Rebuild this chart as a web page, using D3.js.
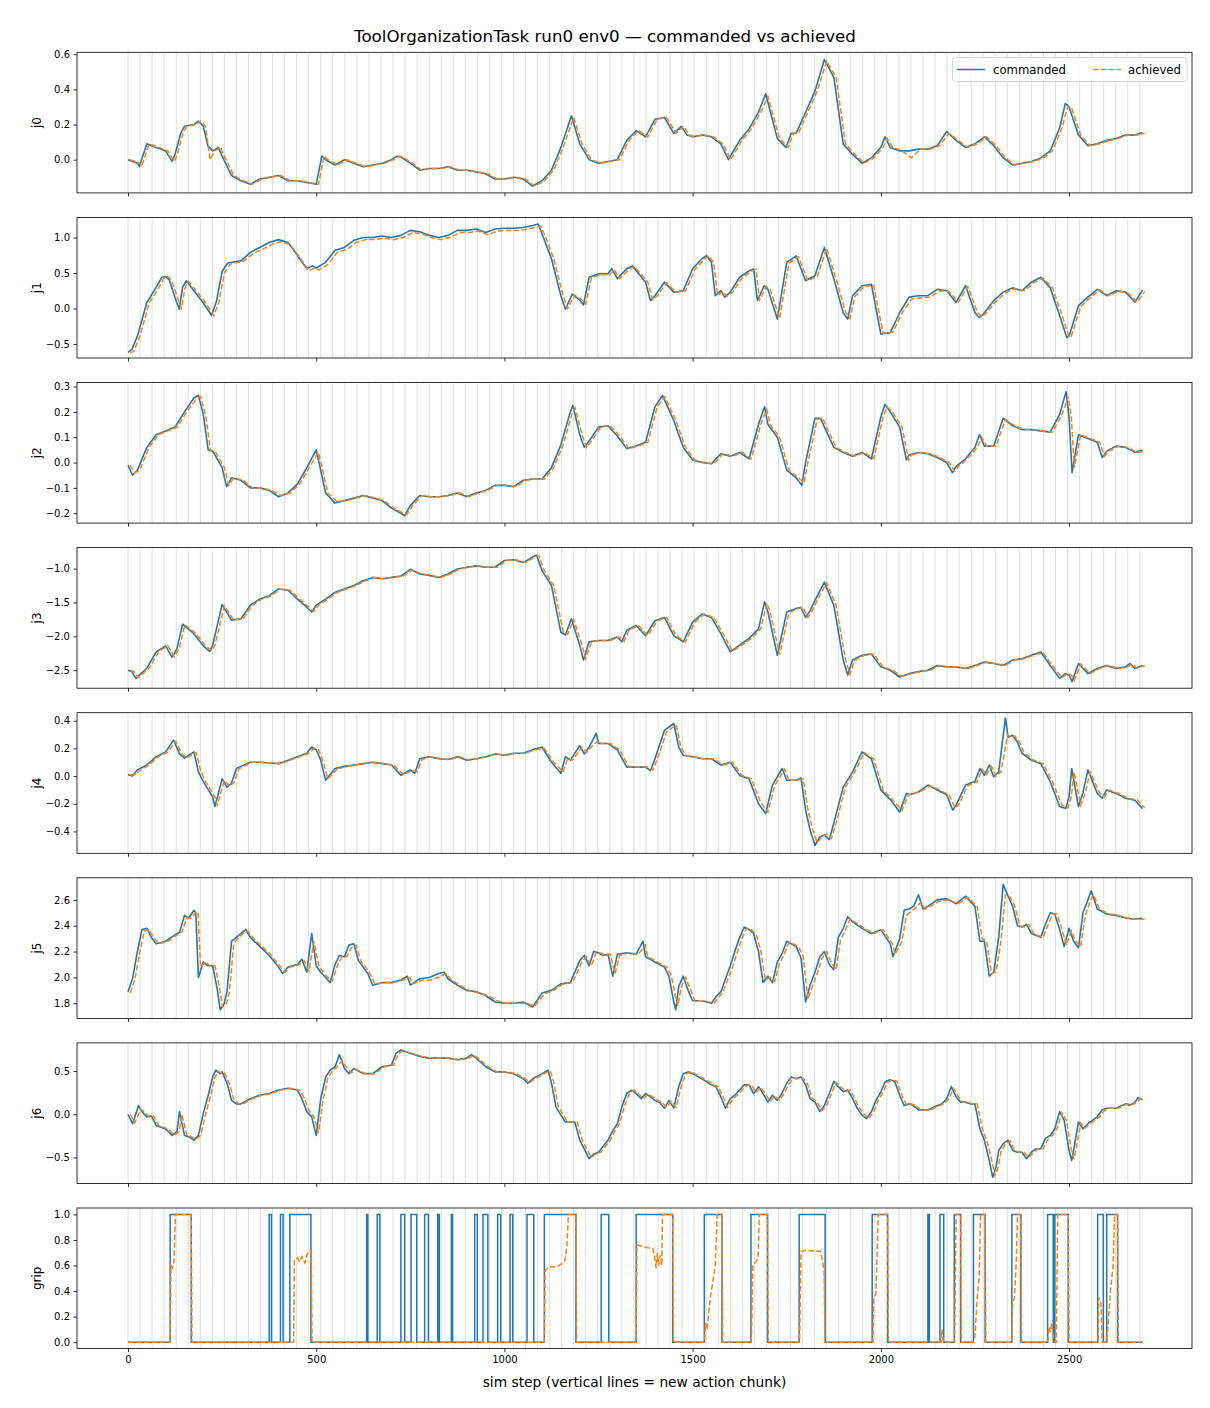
<!DOCTYPE html>
<html><head><meta charset="utf-8">
<script src="https://cdn.jsdelivr.net/npm/d3@7"></script>
<style>body{margin:0;background:#fff} text{font-family:"DejaVu Sans",sans-serif}</style>
</head><body><svg id="c" width="1210" height="1408"></svg>
<script>
// ---------------- DATA ----------------
const titleText = "ToolOrganizationTask run0 env0 \u2014 commanded vs achieved";
const xLabelText = "sim step (vertical lines = new action chunk)";
const panelNames = ["j0","j1","j2","j3","j4","j5","j6","grip"];
const xTickValues = [0,500,1000,1500,2000,2500];
const chunkSize = 32;
const lastStep = 2695;
const achievedLagSteps = 6;
const yLimits = [[-0.189,0.611],[-0.698,1.283],[-0.239,0.316],[-2.765,-0.69],[-0.558,0.458],[1.683,2.771],[-0.802,0.826],[-0.05,1.05]];
const yTickValues = [[0,0.2,0.4,0.6],[-0.5,0,0.5,1.0],[-0.2,-0.1,0,0.1,0.2,0.3],[-2.5,-2.0,-1.5,-1.0],[-0.4,-0.2,0,0.2,0.4],[1.8,2.0,2.2,2.4,2.6],[-0.5,0,0.5],[0,0.2,0.4,0.6,0.8,1.0]];

const steps0 = [0,25,30,50,75,100,117,125,140,150,175,187,200,212,225,240,250,275,300,325,350,375,400,425,450,475,500,515,525,550,575,600,625,650,675,700,715,725,750,775,800,825,850,875,900,925,950,975,1000,1025,1050,1075,1100,1125,1150,1178,1200,1225,1250,1275,1300,1325,1350,1375,1400,1425,1450,1470,1485,1500,1525,1550,1575,1595,1625,1650,1675,1694,1725,1748,1762,1775,1800,1825,1850,1875,1900,1925,1950,1975,2000,2011,2025,2050,2075,2100,2125,2150,2175,2200,2225,2250,2275,2300,2325,2350,2375,2400,2425,2450,2475,2490,2500,2525,2550,2575,2600,2625,2650,2675,2695];
const cmd0 = [0.0,-0.02,-0.04,0.09,0.07,0.05,-0.01,0.03,0.15,0.19,0.20,0.22,0.19,0.08,0.05,0.07,0.02,-0.09,-0.12,-0.14,-0.11,-0.10,-0.09,-0.12,-0.12,-0.13,-0.14,0.02,0.0,-0.03,0.0,-0.02,-0.04,-0.03,-0.02,0.0,0.02,0.015,-0.02,-0.06,-0.05,-0.05,-0.04,-0.06,-0.06,-0.07,-0.08,-0.11,-0.11,-0.10,-0.11,-0.15,-0.12,-0.06,0.07,0.25,0.09,0.0,-0.02,-0.01,0.0,0.11,0.165,0.13,0.23,0.24,0.15,0.19,0.14,0.13,0.14,0.13,0.09,0.0,0.11,0.175,0.27,0.375,0.12,0.07,0.15,0.15,0.27,0.39,0.57,0.47,0.09,0.03,-0.02,0.01,0.07,0.13,0.07,0.05,0.05,0.06,0.06,0.08,0.16,0.11,0.07,0.09,0.13,0.08,0.01,-0.03,-0.02,-0.01,0.01,0.05,0.18,0.32,0.30,0.14,0.08,0.09,0.11,0.12,0.14,0.14,0.155];
const ach0 = [0.0,-0.02,-0.04,0.09,0.07,0.05,-0.01,0.03,0.15,0.19,0.20,0.22,0.19,0.0,0.05,0.07,0.02,-0.09,-0.12,-0.14,-0.11,-0.10,-0.09,-0.12,-0.12,-0.13,-0.14,0.02,0.0,-0.03,0.0,-0.02,-0.04,-0.03,-0.02,0.0,0.02,0.015,-0.02,-0.06,-0.05,-0.05,-0.04,-0.06,-0.06,-0.07,-0.08,-0.11,-0.11,-0.10,-0.11,-0.15,-0.12,-0.06,0.07,0.24,0.09,0.0,-0.02,-0.01,0.0,0.11,0.165,0.13,0.23,0.24,0.15,0.19,0.14,0.13,0.14,0.13,0.09,0.0,0.11,0.175,0.27,0.36,0.12,0.07,0.15,0.15,0.27,0.39,0.56,0.47,0.09,0.03,-0.02,0.01,0.07,0.12,0.07,0.05,0.01,0.06,0.06,0.08,0.15,0.11,0.07,0.09,0.13,0.08,0.01,-0.03,-0.02,-0.01,0.01,0.05,0.18,0.30,0.30,0.14,0.08,0.09,0.11,0.12,0.14,0.14,0.15];

const steps1 = [0,10,25,50,75,90,100,110,125,136,145,155,175,200,222,235,250,265,275,300,325,350,375,400,425,450,475,490,500,525,550,575,600,625,650,675,700,725,750,775,800,825,850,875,900,925,950,975,1000,1025,1050,1075,1090,1100,1125,1150,1162,1180,1200,1210,1225,1250,1275,1285,1300,1325,1340,1375,1388,1400,1425,1450,1475,1500,1525,1537,1550,1560,1575,1585,1600,1625,1650,1662,1672,1690,1700,1725,1750,1775,1800,1825,1850,1875,1900,1912,1925,1950,1975,2000,2025,2050,2075,2100,2125,2150,2175,2200,2225,2250,2262,2275,2300,2325,2350,2375,2400,2425,2450,2475,2494,2500,2525,2550,2575,2600,2625,2650,2675,2695];
const cmd1 = [-0.62,-0.58,-0.39,0.08,0.30,0.44,0.45,0.40,0.15,-0.01,0.30,0.39,0.25,0.08,-0.10,0.10,0.52,0.64,0.65,0.67,0.79,0.86,0.93,0.97,0.93,0.75,0.56,0.60,0.57,0.65,0.82,0.86,0.96,1.00,1.00,1.02,1.00,1.03,1.10,1.08,1.03,1.00,1.03,1.10,1.10,1.12,1.07,1.12,1.13,1.13,1.14,1.17,1.19,1.05,0.70,0.18,-0.01,0.20,0.12,0.05,0.44,0.49,0.49,0.56,0.42,0.56,0.60,0.37,0.11,0.18,0.37,0.23,0.25,0.56,0.70,0.745,0.65,0.18,0.25,0.16,0.23,0.44,0.53,0.557,0.11,0.32,0.27,-0.15,0.65,0.74,0.39,0.46,0.86,0.42,-0.06,-0.15,0.18,0.32,0.34,-0.36,-0.34,-0.06,0.16,0.18,0.18,0.27,0.25,0.085,0.32,-0.06,-0.13,-0.06,0.11,0.23,0.29,0.25,0.37,0.44,0.29,-0.10,-0.41,-0.39,0.04,0.16,0.27,0.18,0.25,0.23,0.09,0.26];
const ach1 = [-0.63,-0.60,-0.40,0.07,0.29,0.43,0.45,0.40,0.16,0.0,0.28,0.38,0.25,0.08,-0.10,0.08,0.50,0.62,0.64,0.66,0.77,0.83,0.90,0.94,0.90,0.72,0.53,0.57,0.54,0.62,0.79,0.83,0.93,0.97,0.97,0.99,0.97,1.00,1.07,1.05,1.00,0.97,1.00,1.07,1.07,1.09,1.04,1.09,1.10,1.10,1.11,1.14,1.16,1.05,0.70,0.18,0.0,0.19,0.12,0.06,0.43,0.48,0.48,0.55,0.42,0.55,0.59,0.37,0.12,0.18,0.36,0.23,0.25,0.55,0.69,0.74,0.65,0.19,0.24,0.17,0.23,0.43,0.52,0.55,0.12,0.31,0.27,-0.14,0.64,0.73,0.39,0.45,0.85,0.42,-0.05,-0.14,0.17,0.31,0.33,-0.35,-0.34,-0.07,0.13,0.15,0.16,0.25,0.24,0.09,0.31,-0.05,-0.12,-0.06,0.10,0.22,0.28,0.25,0.36,0.43,0.29,-0.09,-0.40,-0.39,0.03,0.15,0.26,0.18,0.24,0.22,0.09,0.24];

const steps2 = [0,12,25,50,75,100,125,150,175,187,200,213,225,250,262,275,300,325,350,375,400,425,450,475,500,525,550,575,600,625,650,675,700,725,735,750,775,800,825,850,875,900,925,950,975,1000,1025,1050,1075,1100,1125,1150,1175,1182,1200,1212,1225,1250,1275,1300,1325,1350,1375,1400,1420,1450,1475,1500,1525,1550,1575,1600,1625,1650,1675,1691,1700,1725,1750,1775,1790,1800,1825,1840,1850,1875,1900,1925,1950,1975,2000,2011,2025,2050,2068,2075,2100,2125,2150,2175,2190,2200,2225,2250,2262,2275,2300,2325,2350,2375,2400,2425,2450,2475,2492,2500,2508,2525,2550,2575,2588,2600,2625,2650,2675,2695];
const cmd2 = [-0.01,-0.05,-0.03,0.06,0.11,0.125,0.14,0.20,0.255,0.265,0.19,0.05,0.045,-0.02,-0.095,-0.06,-0.07,-0.10,-0.10,-0.11,-0.135,-0.12,-0.085,-0.02,0.05,-0.12,-0.16,-0.15,-0.14,-0.13,-0.14,-0.15,-0.18,-0.20,-0.21,-0.17,-0.13,-0.135,-0.135,-0.13,-0.12,-0.135,-0.12,-0.11,-0.09,-0.09,-0.095,-0.07,-0.065,-0.065,-0.02,0.07,0.20,0.225,0.11,0.06,0.085,0.14,0.145,0.105,0.055,0.065,0.08,0.22,0.265,0.165,0.06,0.01,0.0,-0.005,0.035,0.025,0.04,0.015,0.15,0.22,0.15,0.10,-0.03,-0.06,-0.09,0.0,0.175,0.175,0.14,0.06,0.04,0.025,0.04,0.015,0.18,0.23,0.20,0.14,0.01,0.03,0.04,0.035,0.02,0.0,-0.04,-0.015,0.015,0.06,0.11,0.065,0.065,0.175,0.145,0.13,0.13,0.125,0.12,0.19,0.28,0.18,-0.04,0.11,0.095,0.08,0.02,0.045,0.065,0.06,0.04,0.05];
const ach2 = [-0.01,-0.04,-0.03,0.06,0.11,0.125,0.14,0.20,0.25,0.26,0.19,0.05,0.045,-0.02,-0.09,-0.06,-0.07,-0.10,-0.10,-0.11,-0.13,-0.12,-0.085,-0.02,0.04,-0.12,-0.155,-0.15,-0.14,-0.13,-0.14,-0.15,-0.18,-0.20,-0.205,-0.17,-0.13,-0.135,-0.135,-0.13,-0.12,-0.135,-0.12,-0.11,-0.09,-0.09,-0.095,-0.07,-0.065,-0.065,-0.02,0.07,0.20,0.215,0.11,0.06,0.085,0.14,0.145,0.105,0.055,0.065,0.08,0.22,0.26,0.165,0.06,0.01,0.0,-0.005,0.035,0.025,0.04,0.015,0.15,0.21,0.15,0.10,-0.03,-0.06,-0.08,0.0,0.17,0.175,0.14,0.06,0.04,0.025,0.04,0.015,0.18,0.22,0.20,0.14,0.01,0.03,0.04,0.035,0.02,0.0,-0.035,-0.015,0.015,0.06,0.10,0.065,0.065,0.17,0.145,0.13,0.13,0.125,0.12,0.19,0.26,0.18,-0.02,0.11,0.095,0.08,0.025,0.045,0.065,0.06,0.04,0.045];

const steps3 = [0,10,21,50,75,100,117,130,145,175,200,217,225,250,275,300,325,350,375,400,425,450,475,488,500,525,550,575,600,625,650,675,700,725,750,775,800,825,850,875,900,925,950,975,1000,1025,1050,1075,1085,1100,1125,1150,1162,1178,1200,1210,1225,1250,1275,1300,1312,1325,1350,1375,1400,1425,1450,1475,1500,1525,1550,1575,1600,1625,1650,1675,1691,1700,1725,1750,1775,1787,1800,1812,1825,1850,1875,1900,1912,1925,1950,1975,2000,2025,2050,2075,2100,2125,2150,2175,2200,2225,2250,2275,2300,2325,2350,2375,2400,2425,2450,2475,2490,2500,2508,2525,2550,2575,2600,2625,2650,2662,2675,2695];
const cmd3 = [-2.50,-2.52,-2.62,-2.47,-2.23,-2.14,-2.31,-2.18,-1.82,-1.96,-2.14,-2.22,-2.13,-1.53,-1.76,-1.74,-1.54,-1.45,-1.40,-1.30,-1.32,-1.45,-1.57,-1.64,-1.54,-1.45,-1.35,-1.30,-1.25,-1.18,-1.13,-1.15,-1.13,-1.11,-1.01,-1.08,-1.10,-1.13,-1.08,-1.005,-0.98,-0.96,-0.98,-0.98,-0.88,-0.87,-0.91,-0.83,-0.80,-1.03,-1.25,-1.94,-1.98,-1.74,-2.13,-2.35,-2.08,-2.06,-2.06,-2.01,-2.08,-1.91,-1.84,-1.99,-1.77,-1.72,-1.99,-2.08,-1.79,-1.67,-1.72,-1.96,-2.23,-2.13,-2.03,-1.89,-1.49,-1.64,-2.28,-1.64,-1.59,-1.57,-1.72,-1.62,-1.47,-1.20,-1.54,-2.35,-2.57,-2.35,-2.28,-2.26,-2.45,-2.50,-2.60,-2.55,-2.52,-2.50,-2.43,-2.45,-2.45,-2.475,-2.43,-2.38,-2.40,-2.43,-2.35,-2.33,-2.28,-2.23,-2.43,-2.62,-2.55,-2.57,-2.67,-2.40,-2.55,-2.475,-2.43,-2.475,-2.45,-2.40,-2.475,-2.43];
const ach3 = [-2.50,-2.52,-2.61,-2.47,-2.23,-2.14,-2.30,-2.18,-1.83,-1.96,-2.14,-2.21,-2.13,-1.55,-1.76,-1.74,-1.54,-1.45,-1.40,-1.30,-1.32,-1.45,-1.57,-1.63,-1.54,-1.45,-1.35,-1.30,-1.25,-1.18,-1.13,-1.15,-1.13,-1.11,-1.02,-1.08,-1.10,-1.13,-1.08,-1.005,-0.98,-0.96,-0.98,-0.98,-0.88,-0.87,-0.91,-0.83,-0.81,-1.03,-1.25,-1.93,-1.97,-1.75,-2.13,-2.33,-2.08,-2.06,-2.06,-2.01,-2.07,-1.91,-1.84,-1.99,-1.77,-1.72,-1.99,-2.08,-1.79,-1.67,-1.72,-1.96,-2.22,-2.13,-2.03,-1.89,-1.51,-1.64,-2.27,-1.65,-1.59,-1.57,-1.72,-1.62,-1.47,-1.21,-1.54,-2.34,-2.56,-2.35,-2.28,-2.26,-2.45,-2.50,-2.59,-2.55,-2.52,-2.50,-2.43,-2.45,-2.45,-2.475,-2.43,-2.38,-2.40,-2.43,-2.35,-2.33,-2.28,-2.24,-2.43,-2.61,-2.55,-2.57,-2.65,-2.41,-2.55,-2.475,-2.43,-2.475,-2.45,-2.41,-2.47,-2.43];

const steps4 = [0,12,25,50,75,100,121,137,150,175,187,200,225,231,250,263,275,288,300,325,350,375,400,425,450,475,488,500,512,525,550,575,600,625,650,675,700,725,750,762,775,800,825,850,875,900,925,950,975,1000,1025,1050,1075,1100,1125,1150,1162,1175,1200,1212,1225,1244,1250,1275,1300,1325,1350,1375,1388,1400,1425,1450,1463,1475,1500,1525,1550,1575,1600,1625,1650,1675,1694,1712,1738,1750,1775,1788,1800,1812,1825,1838,1850,1863,1875,1900,1925,1950,1975,2000,2025,2050,2068,2075,2100,2125,2150,2175,2191,2200,2225,2250,2263,2275,2288,2300,2313,2331,2338,2350,2363,2375,2400,2425,2450,2475,2491,2500,2507,2525,2537,2550,2575,2588,2600,2625,2650,2675,2695];
const cmd4 = [0.01,0.0,0.045,0.08,0.14,0.175,0.26,0.16,0.13,0.175,0.03,-0.04,-0.15,-0.22,-0.02,-0.08,-0.05,0.055,0.07,0.10,0.10,0.095,0.09,0.115,0.14,0.165,0.21,0.19,0.115,-0.03,0.055,0.07,0.08,0.09,0.10,0.09,0.08,0.005,0.045,0.02,0.125,0.14,0.125,0.12,0.14,0.115,0.125,0.14,0.16,0.15,0.165,0.165,0.19,0.21,0.10,0.02,0.14,0.115,0.22,0.16,0.21,0.31,0.235,0.235,0.19,0.065,0.065,0.065,0.04,0.125,0.33,0.38,0.21,0.15,0.14,0.125,0.125,0.08,0.10,0.005,-0.02,-0.20,-0.27,-0.065,0.055,-0.03,-0.03,-0.015,-0.245,-0.39,-0.50,-0.44,-0.425,-0.46,-0.34,-0.08,0.03,0.175,0.125,-0.10,-0.17,-0.26,-0.125,-0.135,-0.115,-0.065,-0.10,-0.135,-0.245,-0.21,-0.065,-0.04,0.055,0.005,0.08,-0.005,0.03,0.42,0.28,0.295,0.245,0.165,0.115,0.09,-0.04,-0.22,-0.235,-0.15,0.055,-0.22,-0.12,0.045,-0.125,-0.16,-0.10,-0.125,-0.16,-0.175,-0.235];
const ach4 = [0.01,0.01,0.04,0.08,0.14,0.175,0.25,0.16,0.13,0.17,0.04,-0.04,-0.15,-0.21,-0.03,-0.07,-0.05,0.05,0.07,0.10,0.10,0.095,0.09,0.115,0.14,0.165,0.20,0.19,0.11,-0.02,0.05,0.07,0.08,0.09,0.10,0.09,0.08,0.01,0.04,0.03,0.12,0.14,0.125,0.12,0.14,0.115,0.125,0.14,0.16,0.15,0.165,0.165,0.19,0.20,0.10,0.03,0.13,0.115,0.21,0.17,0.21,0.26,0.235,0.235,0.19,0.065,0.065,0.065,0.045,0.12,0.32,0.37,0.21,0.15,0.14,0.125,0.125,0.08,0.10,0.005,-0.02,-0.19,-0.26,-0.07,0.05,-0.03,-0.03,-0.02,-0.24,-0.38,-0.48,-0.44,-0.42,-0.45,-0.34,-0.08,0.03,0.17,0.125,-0.10,-0.17,-0.25,-0.13,-0.135,-0.11,-0.07,-0.10,-0.135,-0.23,-0.21,-0.07,-0.04,0.05,0.01,0.07,0.0,0.03,0.30,0.28,0.29,0.245,0.165,0.115,0.09,-0.04,-0.21,-0.23,-0.15,0.03,-0.21,-0.12,0.03,-0.12,-0.15,-0.10,-0.125,-0.16,-0.17,-0.23];

const steps5 = [0,12,25,37,50,62,75,100,125,137,150,162,175,180,187,200,212,225,237,245,256,263,275,288,300,313,325,350,375,400,411,425,450,462,475,488,500,512,525,537,550,562,575,587,600,612,625,637,650,675,700,725,742,750,775,800,825,840,850,875,900,925,950,975,1000,1025,1050,1075,1100,1125,1150,1175,1200,1212,1225,1237,1250,1262,1275,1288,1300,1325,1350,1368,1375,1400,1425,1437,1450,1455,1463,1475,1488,1500,1525,1550,1562,1575,1600,1612,1625,1637,1650,1662,1675,1687,1700,1712,1725,1737,1750,1762,1775,1788,1800,1812,1825,1838,1850,1863,1875,1887,1900,1912,1925,1950,1975,2000,2025,2032,2050,2062,2075,2087,2100,2112,2125,2150,2175,2200,2225,2250,2263,2275,2288,2300,2313,2325,2338,2350,2363,2375,2387,2400,2425,2437,2450,2462,2475,2487,2500,2512,2525,2537,2550,2559,2575,2600,2625,2650,2675,2695];
const cmd5 = [1.89,1.99,2.20,2.37,2.38,2.31,2.26,2.28,2.33,2.35,2.48,2.46,2.52,2.50,2.00,2.12,2.09,2.09,1.91,1.75,1.80,1.89,2.28,2.31,2.34,2.37,2.31,2.24,2.17,2.08,2.03,2.08,2.10,2.14,2.04,2.34,2.09,2.04,2.00,1.96,2.10,2.17,2.16,2.25,2.26,2.13,2.08,2.03,1.94,1.96,1.96,1.98,2.01,1.94,1.99,2.00,2.03,2.04,1.99,1.94,1.90,1.89,1.86,1.81,1.80,1.80,1.81,1.77,1.88,1.90,1.95,1.96,2.13,2.17,2.09,2.20,2.19,2.17,2.18,2.01,2.18,2.19,2.18,2.28,2.16,2.12,2.08,2.01,1.81,1.75,1.93,2.01,1.90,1.82,1.82,1.80,1.85,1.89,2.09,2.20,2.31,2.39,2.37,2.34,2.20,1.96,2.01,1.96,2.12,2.18,2.28,2.26,2.24,2.15,1.81,1.94,2.04,2.16,2.20,2.10,2.06,2.31,2.38,2.47,2.43,2.38,2.34,2.37,2.26,2.16,2.30,2.52,2.53,2.55,2.64,2.53,2.55,2.60,2.61,2.57,2.63,2.55,2.28,2.28,2.01,2.04,2.31,2.72,2.63,2.55,2.40,2.39,2.41,2.34,2.31,2.41,2.50,2.49,2.37,2.24,2.38,2.28,2.23,2.50,2.60,2.67,2.53,2.49,2.48,2.46,2.45,2.46];
const ach5 = [1.88,1.98,2.19,2.36,2.37,2.31,2.26,2.28,2.33,2.35,2.46,2.46,2.51,2.50,2.08,2.12,2.09,2.09,1.92,1.77,1.80,1.88,2.26,2.31,2.34,2.36,2.31,2.24,2.17,2.08,2.04,2.08,2.10,2.13,2.05,2.28,2.10,2.04,2.00,1.97,2.09,2.16,2.16,2.23,2.25,2.13,2.08,2.03,1.95,1.96,1.96,1.98,2.00,1.95,1.98,1.98,2.01,2.03,1.99,1.94,1.90,1.88,1.86,1.82,1.80,1.80,1.80,1.78,1.87,1.90,1.95,1.96,2.12,2.16,2.09,2.19,2.19,2.17,2.18,2.03,2.17,2.19,2.18,2.25,2.16,2.12,2.08,2.02,1.83,1.78,1.92,2.00,1.91,1.82,1.82,1.80,1.84,1.89,2.08,2.19,2.30,2.38,2.37,2.34,2.21,1.98,2.00,1.97,2.11,2.18,2.27,2.26,2.24,2.16,1.83,1.93,2.03,2.15,2.20,2.11,2.06,2.29,2.37,2.45,2.43,2.38,2.34,2.37,2.26,2.18,2.28,2.48,2.51,2.54,2.58,2.53,2.55,2.59,2.60,2.57,2.62,2.55,2.30,2.28,2.03,2.04,2.28,2.64,2.62,2.55,2.40,2.39,2.41,2.34,2.31,2.40,2.49,2.49,2.37,2.25,2.36,2.28,2.24,2.48,2.59,2.64,2.53,2.49,2.48,2.46,2.45,2.45];

const steps6 = [0,12,28,37,50,62,75,100,117,130,137,150,162,175,187,200,212,225,233,244,250,263,275,288,300,325,350,375,400,425,450,462,475,488,500,512,525,537,550,562,575,587,600,625,650,675,700,712,725,750,775,800,825,850,875,900,912,925,950,975,1000,1025,1050,1062,1075,1100,1116,1125,1137,1150,1162,1175,1187,1200,1212,1225,1237,1250,1275,1288,1300,1312,1325,1338,1350,1363,1375,1388,1400,1412,1425,1437,1450,1463,1475,1488,1500,1525,1550,1562,1575,1587,1600,1612,1625,1637,1650,1662,1675,1687,1700,1712,1725,1737,1750,1762,1775,1788,1800,1812,1825,1838,1850,1863,1875,1887,1900,1912,1925,1937,1950,1962,1975,1987,2000,2012,2025,2037,2050,2062,2075,2087,2100,2125,2150,2162,2175,2187,2200,2212,2225,2237,2250,2263,2275,2288,2297,2306,2313,2325,2338,2350,2363,2375,2387,2400,2412,2425,2437,2450,2462,2475,2487,2500,2507,2512,2525,2537,2550,2562,2575,2588,2600,2625,2650,2662,2675,2683,2695];
const cmd6 = [0.0,-0.11,0.10,0.03,-0.03,-0.02,-0.13,-0.17,-0.245,-0.20,0.03,-0.245,-0.26,-0.30,-0.245,0.01,0.20,0.43,0.51,0.47,0.49,0.36,0.16,0.12,0.12,0.18,0.22,0.24,0.28,0.30,0.28,0.18,0.03,-0.03,-0.245,0.18,0.43,0.51,0.55,0.69,0.53,0.47,0.53,0.47,0.47,0.55,0.57,0.705,0.745,0.705,0.67,0.65,0.65,0.65,0.63,0.65,0.69,0.65,0.55,0.49,0.49,0.47,0.41,0.36,0.41,0.47,0.51,0.36,0.085,-0.01,-0.09,-0.09,-0.09,-0.30,-0.40,-0.515,-0.46,-0.44,-0.30,-0.19,-0.11,0.085,0.24,0.28,0.24,0.18,0.24,0.20,0.16,0.14,0.07,0.16,0.07,0.32,0.47,0.49,0.47,0.41,0.34,0.32,0.20,0.07,0.18,0.22,0.28,0.34,0.34,0.24,0.32,0.24,0.14,0.22,0.16,0.24,0.36,0.43,0.41,0.43,0.34,0.18,0.14,0.03,0.10,0.24,0.38,0.32,0.26,0.28,0.18,0.07,-0.01,-0.05,0.03,0.16,0.26,0.38,0.40,0.38,0.22,0.10,0.12,0.10,0.05,0.05,0.10,0.12,0.18,0.32,0.20,0.14,0.14,0.12,0.12,-0.17,-0.30,-0.535,-0.73,-0.61,-0.42,-0.34,-0.30,-0.42,-0.44,-0.44,-0.515,-0.44,-0.40,-0.40,-0.28,-0.245,-0.17,0.03,-0.07,-0.42,-0.535,-0.42,-0.09,-0.17,-0.11,-0.07,-0.03,0.05,0.07,0.07,0.12,0.105,0.14,0.19,0.17];
const ach6 = [0.0,-0.10,0.06,0.03,-0.03,-0.02,-0.13,-0.17,-0.24,-0.20,0.0,-0.24,-0.26,-0.29,-0.245,0.0,0.19,0.42,0.50,0.47,0.48,0.36,0.17,0.12,0.12,0.18,0.22,0.24,0.28,0.30,0.28,0.19,0.04,-0.03,-0.22,0.16,0.42,0.50,0.55,0.62,0.54,0.48,0.52,0.47,0.47,0.55,0.57,0.70,0.74,0.70,0.67,0.65,0.65,0.65,0.63,0.65,0.68,0.65,0.55,0.49,0.49,0.47,0.41,0.37,0.41,0.47,0.50,0.37,0.09,-0.01,-0.09,-0.09,-0.09,-0.29,-0.40,-0.50,-0.46,-0.44,-0.30,-0.19,-0.11,0.08,0.23,0.28,0.24,0.18,0.23,0.20,0.16,0.14,0.08,0.15,0.08,0.31,0.46,0.49,0.47,0.41,0.34,0.32,0.20,0.08,0.17,0.22,0.28,0.33,0.34,0.25,0.31,0.24,0.15,0.21,0.16,0.24,0.35,0.42,0.41,0.42,0.34,0.18,0.14,0.04,0.10,0.24,0.37,0.32,0.26,0.28,0.18,0.07,0.0,-0.05,0.03,0.16,0.26,0.37,0.40,0.38,0.22,0.11,0.12,0.10,0.05,0.05,0.10,0.12,0.18,0.30,0.20,0.14,0.14,0.12,0.12,-0.16,-0.30,-0.52,-0.71,-0.61,-0.43,-0.34,-0.31,-0.42,-0.44,-0.44,-0.50,-0.44,-0.40,-0.40,-0.29,-0.245,-0.17,0.02,-0.07,-0.41,-0.52,-0.42,-0.10,-0.16,-0.11,-0.07,-0.03,0.04,0.07,0.07,0.12,0.11,0.14,0.18,0.17];

// gripper: commanded is a step signal (value holds until next step)
const gripCmdSteps = [0,112,168,375,381,405,412,430,486,634,637,662,669,725,735,752,767,788,798,823,827,859,862,921,928,943,956,982,990,1015,1022,1060,1078,1106,1190,1257,1277,1350,1447,1531,1578,1655,1699,1783,1852,1977,2018,2125,2129,2157,2167,2195,2212,2246,2277,2348,2372,2443,2458,2462,2498,2576,2591,2600,2629,2695];
const gripCmdVals = [0,1,0,1,0,1,0,1,0,1,0,1,0,1,0,1,0,1,0,1,0,1,0,1,0,1,0,1,0,1,0,1,0,1,0,1,0,1,0,1,0,1,0,1,0,1,0,1,0,1,0,1,0,1,0,1,0,1,0,1,0,1,0,1,0,0];
const gripAchSteps = [0,112,114,118,122,126,168,170,440,442,450,456,462,470,476,484,487,489,1106,1108,1115,1125,1140,1150,1160,1166,1170,1190,1192,1350,1352,1365,1380,1395,1400,1403,1406,1410,1414,1418,1420,1447,1449,1532,1534,1538,1542,1546,1553,1560,1565,1578,1580,1656,1660,1668,1674,1677,1699,1701,1784,1788,1800,1840,1846,1849,1852,1979,1981,1987,1993,2018,2020,2160,2162,2165,2167,2196,2200,2212,2214,2246,2250,2256,2261,2265,2277,2279,2348,2350,2355,2360,2363,2372,2374,2444,2446,2450,2454,2458,2461,2466,2470,2498,2500,2577,2579,2585,2588,2600,2604,2610,2617,2621,2629,2631,2695];
const gripAchVals = [0,0,0.60,0.58,0.63,1.0,1.0,0,0,0.64,0.66,0.63,0.67,0.62,0.69,0.72,0.68,0,0,0.56,0.58,0.59,0.59,0.61,0.63,0.75,1.0,1.0,0,0,0.76,0.75,0.74,0.73,0.65,0.58,0.70,0.60,0.68,0.60,1.0,1.0,0,0,0.15,0.10,0.20,0.33,0.46,0.60,1.0,1.0,0,0,0.60,0.63,0.66,1.0,1.0,0,0,0.71,0.72,0.71,0.62,0.55,0,0,0.35,0.38,1.0,1.0,0,0,0.10,0.02,0,0,1.0,1.0,0,0,0.05,0.35,0.50,1.0,1.0,0,0,0.30,0.35,0.65,1.0,1.0,0,0,0.12,0.08,0.15,0.05,0,0,1.0,1.0,0,0,0.35,0.30,0,0,0.15,0.40,0.60,1.0,1.0,0,0];

// ---------------- DRAW ----------------
const jointSteps = [steps0,steps1,steps2,steps3,steps4,steps5,steps6];
const jointCmd = [cmd0,cmd1,cmd2,cmd3,cmd4,cmd5,cmd6];
const jointAch = [ach0,ach1,ach2,ach3,ach4,ach5,ach6];

const svg = d3.select("#c");
const W = 1210, H = 1408;
const left = 77, right = 1192, top0 = 52.3, pitch = 165.1, ph = 140.6;
const blue = "#1f77b4", orange = "#ff7f0e";

const x = d3.scaleLinear().domain([-135.5, 2826.6]).range([left, right]);
const chunkStarts = d3.range(0, lastStep, chunkSize);
const fmt = d3.format(".1f");

svg.append("rect").attr("width",W).attr("height",H).attr("fill","#fff");

svg.append("text").attr("x",605).attr("y",42).attr("text-anchor","middle")
  .attr("font-size",16.7).attr("fill","#000").text(titleText);

panelNames.forEach((name, k) => {
  const top = top0 + k*pitch;
  const y = d3.scaleLinear().domain(yLimits[k]).range([top+ph, top]);
  const g = svg.append("g");
  const clipId = "clip"+k;
  svg.append("clipPath").attr("id",clipId).append("rect")
     .attr("x",left).attr("y",top).attr("width",right-left).attr("height",ph);
  const inner = g.append("g").attr("clip-path",`url(#${clipId})`);

  inner.selectAll("line.chunk").data(chunkStarts).join("line")
    .attr("x1",d=>x(d)).attr("x2",d=>x(d)).attr("y1",top).attr("y2",top+ph)
    .attr("stroke","#d6d6d6").attr("stroke-width",0.8);

  if (k < 7) {
    const st = jointSteps[k], cv = jointCmd[k], av = jointAch[k];
    const idx = d3.range(st.length);
    const lc = d3.line().x(i=>x(st[i])).y(i=>y(cv[i]));
    const la = d3.line().x(i=>x(st[i]+achievedLagSteps)).y(i=>y(av[i]));
    inner.append("path").attr("d",lc(idx)).attr("fill","none")
      .attr("stroke",blue).attr("stroke-width",1.6).attr("stroke-linejoin","round");
    inner.append("path").attr("d",la(idx)).attr("fill","none")
      .attr("stroke",orange).attr("stroke-width",1.5).attr("stroke-dasharray","5.5,2.4");
  } else {
    const ic = d3.range(gripCmdSteps.length);
    const lc = d3.line().curve(d3.curveStepAfter).x(i=>x(gripCmdSteps[i])).y(i=>y(gripCmdVals[i]));
    const ia = d3.range(gripAchSteps.length);
    const la = d3.line().x(i=>x(gripAchSteps[i])).y(i=>y(gripAchVals[i]));
    inner.append("path").attr("d",lc(ic)).attr("fill","none")
      .attr("stroke",blue).attr("stroke-width",1.5);
    inner.append("path").attr("d",la(ia)).attr("fill","none")
      .attr("stroke",orange).attr("stroke-width",1.5).attr("stroke-dasharray","5.5,2.4");
  }

  // y axis
  const ya = g.append("g").attr("transform",`translate(${left},0)`)
    .call(d3.axisLeft(y).tickValues(yTickValues[k]).tickFormat(fmt).tickSize(3.5).tickPadding(3.5));
  ya.select(".domain").remove();
  ya.selectAll("text").attr("font-size",10).attr("font-family","DejaVu Sans").attr("fill","#000");
  ya.selectAll("line").attr("stroke","#000").attr("stroke-width",0.8);

  // x axis
  const xa = g.append("g").attr("transform",`translate(0,${top+ph})`)
    .call(d3.axisBottom(x).tickValues(xTickValues).tickFormat(d3.format("d")).tickSize(3.5).tickPadding(3.5));
  xa.select(".domain").remove();
  xa.selectAll("line").attr("stroke","#000").attr("stroke-width",0.8);
  if (k < 7) xa.selectAll("text").remove();
  else xa.selectAll("text").attr("font-size",10).attr("font-family","DejaVu Sans").attr("fill","#000");

  // spines
  g.append("rect").attr("x",left).attr("y",top).attr("width",right-left).attr("height",ph)
    .attr("fill","none").attr("stroke","#000").attr("stroke-width",0.8);

  // y label
  g.append("text").attr("transform",`translate(41,${top+ph/2}) rotate(-90)`)
    .attr("text-anchor","middle").attr("font-size",12).attr("fill","#000").text(name);

  if (k === 0) {
    const lg = g.append("g");
    lg.append("rect").attr("x",952.5).attr("y",57.5).attr("width",234.5).attr("height",24)
      .attr("rx",3).attr("fill","#fff").attr("fill-opacity",0.8).attr("stroke","#cccccc").attr("stroke-width",0.8);
    lg.append("line").attr("x1",957).attr("x2",985).attr("y1",69.5).attr("y2",69.5)
      .attr("stroke",blue).attr("stroke-width",1.5);
    lg.append("text").attr("x",993).attr("y",73.8).attr("font-size",11.7).attr("fill","#000").text("commanded");
    lg.append("line").attr("x1",1093).attr("x2",1121).attr("y1",69.5).attr("y2",69.5)
      .attr("stroke",orange).attr("stroke-width",1.5).attr("stroke-dasharray","5.5,2.4");
    lg.append("text").attr("x",1128).attr("y",73.8).attr("font-size",11.7).attr("fill","#000").text("achieved");
  }
});

svg.append("text").attr("x",(left+right)/2).attr("y",1387).attr("text-anchor","middle")
  .attr("font-size",13.8).attr("fill","#000").text(xLabelText);
</script>
</body></html>
